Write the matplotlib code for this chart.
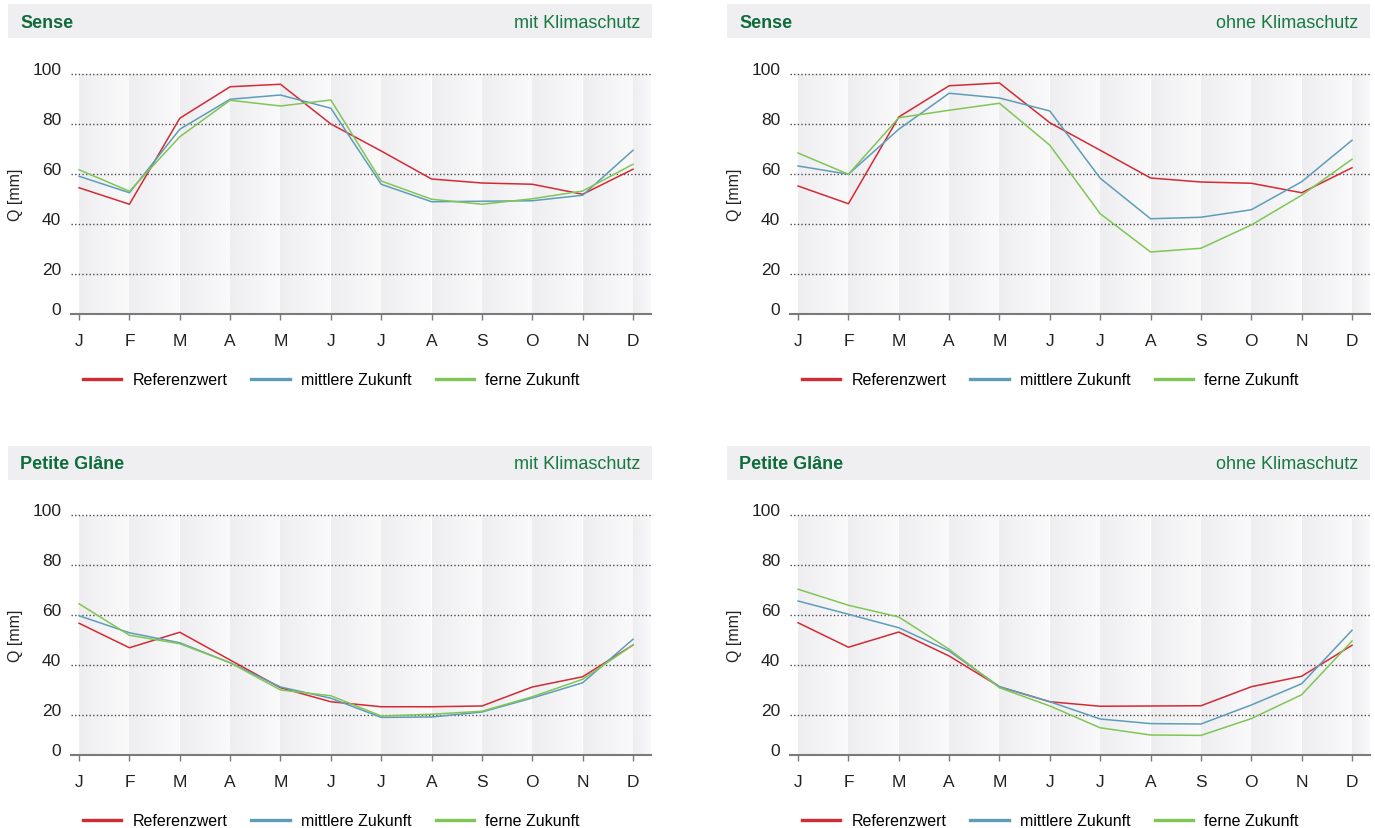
import numpy as np
import matplotlib.pyplot as plt
from matplotlib.colors import LinearSegmentedColormap
from matplotlib.patches import Rectangle
from matplotlib.lines import Line2D

plt.rcParams['font.family'] = ['Liberation Sans', 'DejaVu Sans']

# Data
months = ['J', 'F', 'M', 'A', 'M', 'J', 'J', 'A', 'S', 'O', 'N', 'D']
series_names = ['Referenzwert', 'mittlere Zukunft', 'ferne Zukunft']
colors = ['#d42a34', '#5e9db8', '#80c655']
yticks = [0, 20, 40, 60, 80, 100]

sense_mit_ref = [54.5, 47.9, 82.3, 94.9, 95.9, 80.0, 69.2, 58.0, 56.4, 55.9, 51.9, 61.9]
sense_mit_mid = [59.1, 52.5, 77.9, 89.9, 91.6, 86.3, 55.9, 48.9, 49.1, 49.3, 51.5, 69.5]
sense_mit_far = [61.7, 53.1, 74.9, 89.5, 87.2, 89.6, 57.2, 49.9, 47.9, 50.1, 53.2, 63.9]

sense_ohne_ref = [55.2, 48.1, 82.8, 95.3, 96.4, 80.5, 69.5, 58.4, 56.8, 56.3, 52.5, 62.5]
sense_ohne_mid = [63.2, 59.9, 77.9, 92.3, 90.4, 85.2, 58.3, 42.1, 42.7, 45.7, 56.9, 73.5]
sense_ohne_far = [68.4, 59.9, 82.5, 85.5, 88.3, 71.5, 44.1, 28.8, 30.3, 39.6, 51.5, 65.9]

pg_mit_ref = [56.7, 46.9, 53.1, 42.0, 30.9, 25.3, 23.3, 23.3, 23.6, 31.2, 35.3, 48.0]
pg_mit_mid = [59.7, 52.9, 48.9, 40.9, 31.2, 26.7, 18.8, 19.0, 21.2, 26.8, 32.9, 50.3]
pg_mit_far = [64.5, 51.9, 48.5, 40.9, 30.0, 27.7, 19.5, 20.3, 21.5, 27.3, 34.3, 48.0]

pg_ohne_ref = [56.9, 47.1, 53.2, 43.6, 31.3, 25.3, 23.5, 23.6, 23.7, 31.3, 35.5, 47.9]
pg_ohne_mid = [65.6, 60.3, 54.9, 45.6, 31.3, 25.3, 18.0, 15.7, 15.5, 24.0, 32.5, 53.9]
pg_ohne_far = [70.3, 63.9, 59.2, 46.3, 30.9, 23.6, 13.6, 10.0, 9.8, 18.2, 28.1, 49.6]

panels = [
    ('Sense', 'mit Klimaschutz', [sense_mit_ref, sense_mit_mid, sense_mit_far]),
    ('Sense', 'ohne Klimaschutz', [sense_ohne_ref, sense_ohne_mid, sense_ohne_far]),
    ('Petite Glâne', 'mit Klimaschutz', [pg_mit_ref, pg_mit_mid, pg_mit_far]),
    ('Petite Glâne', 'ohne Klimaschutz', [pg_ohne_ref, pg_ohne_mid, pg_ohne_far]),
]

W, H = 1375, 829
fig = plt.figure(figsize=(W / 100, H / 100), dpi=100)
fig.patch.set_facecolor('white')


# axis is squeezed below 20 (0..20 takes 40px, other steps 50px)
def fwd(v):
    v = np.asarray(v, dtype=float)
    return np.where(v < 20, v * 0.8, v - 4)


def inv(u):
    u = np.asarray(u, dtype=float)
    return np.where(u < 16, u / 0.8, u + 4)


stripe_cmap = LinearSegmentedColormap.from_list('stripe', ['#eeeef1', '#fafafb'])
grad = np.linspace(0, 1, 64).reshape(1, -1)

# pixel positions: (axes left, header left, header right, axis y) per panel
layout = [(71, 8, 652, 315), (790, 727, 1370, 315),
          (71, 8, 652, 756), (790, 727, 1370, 756)]
px_per_month = 50.36
x0 = -0.16
x1 = 11.36

for (river, scen, data), (axl, hl, hr, axy) in zip(panels, layout):
    axw = (x1 - x0) * px_per_month
    axh = 97 * 2.5
    ax = fig.add_axes([axl / W, (H - axy) / H, axw / W, axh / H])
    ax.set_yscale('function', functions=(fwd, inv))

    # background stripes, one gradient per month
    for i in range(12):
        right = min(i + 1, x1)
        ax.imshow(grad, cmap=stripe_cmap, extent=(i, right, 0, 100),
                  aspect='auto', zorder=0, interpolation='bilinear')
    ax.set_xlim(x0, x1)
    ax.set_ylim(0, 101)

    for vals, c in zip(data, colors):
        ax.plot(range(12), vals, color=c, lw=1.1, zorder=3)

    for t in yticks[1:]:
        ax.axhline(t, color='#4a4a4a', lw=1.0, ls=(0, (1, 1.6)), zorder=2)

    for s in ['left', 'right', 'top']:
        ax.spines[s].set_visible(False)
    ax.spines['bottom'].set_color('#7a7a7a')
    ax.spines['bottom'].set_linewidth(1.5)
    ax.set_facecolor('none')

    ax.set_xticks(range(12))
    ax.set_xticklabels(months, fontsize=12.5, color='#222222')
    ax.tick_params(axis='x', length=4, width=1, color='#7a7a7a', pad=10)
    ax.set_yticks(yticks)
    ax.set_yticklabels([str(t) for t in yticks], fontsize=12.5, color='#222222',
                       va='baseline')
    ax.tick_params(axis='y', length=0, pad=7)

    # header bar
    top_px = 5 if axy < 400 else 447
    fig.patches.append(Rectangle((hl / W, 1 - (top_px + 34) / H),
                                 (hr - hl) / W, 34 / H,
                                 transform=fig.transFigure, facecolor='#efeef1',
                                 edgecolor='none', zorder=0))
    hy = 1 - (top_px + 18) / H
    fig.text((hl + 12) / W, hy, river, fontsize=13, fontweight='bold',
             color='#0e6b3a', va='center', ha='left')
    fig.text((hr - 12) / W, hy, scen, fontsize=13, color='#167a42',
             va='center', ha='right')

    # y label
    fig.text((hl + 8) / W, 1 - (axy - 120) / H, 'Q [mm]', rotation=90,
             fontsize=11.5, color='#222222', va='center', ha='center')

    # legend
    handles = [Line2D([], [], color=c, lw=2.4) for c in colors]
    ax.legend(handles, series_names, ncol=3, frameon=False, fontsize=11.5,
              loc='center left', borderpad=0, handlelength=2.4,
              handletextpad=0.7, columnspacing=1.5,
              bbox_to_anchor=((axl + 4) / W, 1 - (axy + 66) / H),
              bbox_transform=fig.transFigure)

fig.savefig('out.png', dpi=100)
